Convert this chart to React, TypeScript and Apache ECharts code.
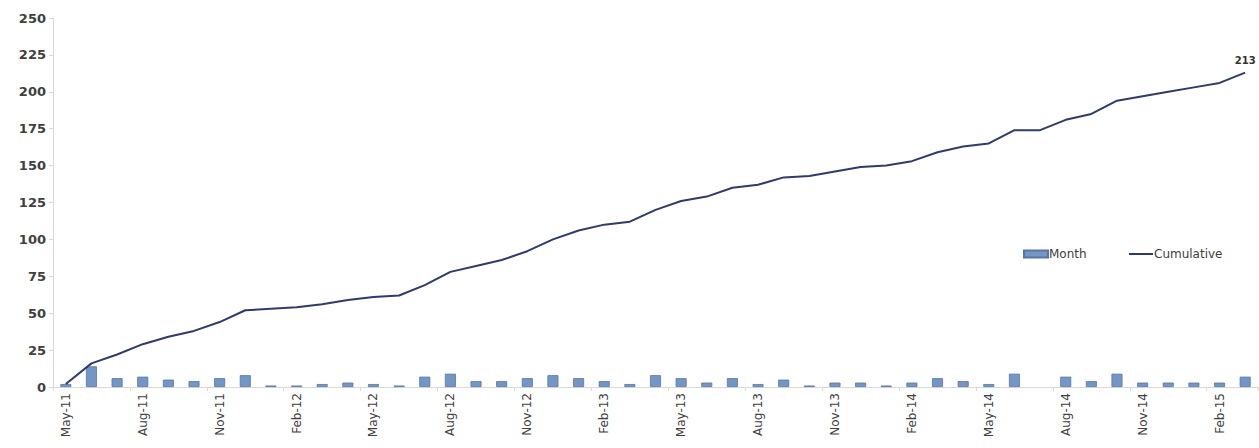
import React, { useEffect, useRef } from "react";
import * as echarts from "echarts";

const categories = [
  "May-11", "Jun-11", "Jul-11", "Aug-11", "Sep-11", "Oct-11", "Nov-11", "Dec-11",
  "Jan-12", "Feb-12", "Mar-12", "Apr-12", "May-12", "Jun-12", "Jul-12", "Aug-12",
  "Sep-12", "Oct-12", "Nov-12", "Dec-12", "Jan-13", "Feb-13", "Mar-13", "Apr-13",
  "May-13", "Jun-13", "Jul-13", "Aug-13", "Sep-13", "Oct-13", "Nov-13", "Dec-13",
  "Jan-14", "Feb-14", "Mar-14", "Apr-14", "May-14", "Jun-14", "Jul-14", "Aug-14",
  "Sep-14", "Oct-14", "Nov-14", "Dec-14", "Jan-15", "Feb-15", "Mar-15",
];

const monthValues = [
  2, 14, 6, 7, 5, 4, 6, 8, 1, 1, 2, 3, 2, 1, 7, 9, 4, 4, 6, 8, 6, 4, 2, 8,
  6, 3, 6, 2, 5, 1, 3, 3, 1, 3, 6, 4, 2, 9, 0, 7, 4, 9, 3, 3, 3, 3, 7,
];

const cumulativeValues = [
  2, 16, 22, 29, 34, 38, 44, 52, 53, 54, 56, 59, 61, 62, 69, 78, 82, 86, 92, 100,
  106, 110, 112, 120, 126, 129, 135, 137, 142, 143, 146, 149, 150, 153, 159, 163,
  165, 174, 174, 181, 185, 194, 197, 200, 203, 206, 213,
];

const FONT = "'DejaVu Sans', Verdana, sans-serif";
const TEXT = "#404040";

export default function App() {
  const ref = useRef<HTMLDivElement>(null);
  useEffect(() => {
    document.body.style.margin = "0";
    if (!ref.current) return;
    const chart = echarts.init(ref.current, null, { renderer: "svg" });
    const lastIdx = cumulativeValues.length - 1;
    chart.setOption({
      animation: false,
      backgroundColor: "#ffffff",
      textStyle: { fontFamily: FONT },
      grid: { left: 53, right: 1, top: 18, bottom: 61 },
      legend: [
        {
          left: 1018,
          top: 243,
          itemWidth: 24,
          itemHeight: 7,
          itemGap: 0,
          textStyle: { color: TEXT, fontSize: 12, fontFamily: FONT, padding: [0, 0, 0, -4] },
          data: [{ name: "Month", icon: "rect" }],
        },
        {
          left: 1124,
          top: 243,
          itemWidth: 24,
          itemHeight: 2,
          itemGap: 0,
          textStyle: { color: TEXT, fontSize: 12, fontFamily: FONT, padding: [0, 0, 0, -4] },
          data: [{ name: "Cumulative", icon: "rect" }],
        },
      ],
      xAxis: {
        type: "category",
        data: categories,
        boundaryGap: true,
        axisLine: { lineStyle: { color: "#d9d9d9", width: 1 } },
        axisTick: { show: true, interval: 2, length: 4, lineStyle: { color: "#d9d9d9" } },
        axisLabel: {
          interval: 2,
          rotate: 90,
          color: TEXT,
          fontSize: 12,
          fontFamily: FONT,
          margin: 6,
        },
        splitLine: { show: false },
      },
      yAxis: {
        type: "value",
        min: 0,
        max: 250,
        interval: 25,
        axisLine: { show: true, lineStyle: { color: "#d9d9d9", width: 1 } },
        axisTick: { show: true, length: 4, lineStyle: { color: "#d9d9d9" } },
        axisLabel: {
          color: TEXT,
          fontSize: 13,
          fontWeight: "bold",
          fontFamily: FONT,
          margin: 7,
        },
        splitLine: { show: false },
      },
      series: [
        {
          name: "Month",
          type: "bar",
          data: monthValues.map((v) =>
            v === 0 ? { value: v, itemStyle: { borderWidth: 0 } } : v
          ),
          barWidth: 11,
          itemStyle: { color: "#7396c6", borderColor: "#5676a6", borderWidth: 0.8 },
        },
        {
          name: "Cumulative",
          type: "line",
          symbol: "circle",
          symbolSize: 0,
          showSymbol: true,
          data: cumulativeValues.map((v, i) =>
            i === lastIdx
              ? {
                  value: v,
                  label: {
                    show: true,
                    position: "top",
                    distance: 7,
                    color: "#333333",
                    fontSize: 10,
                    fontWeight: "bold",
                    fontFamily: FONT,
                  },
                }
              : v
          ),
          lineStyle: { color: "#2e3b6c", width: 2 },
          itemStyle: { color: "#2e3b6c" },
        },
      ],
    });
    return () => chart.dispose();
  }, []);
  return <div ref={ref} style={{ width: 1259, height: 448 }} />;
}
